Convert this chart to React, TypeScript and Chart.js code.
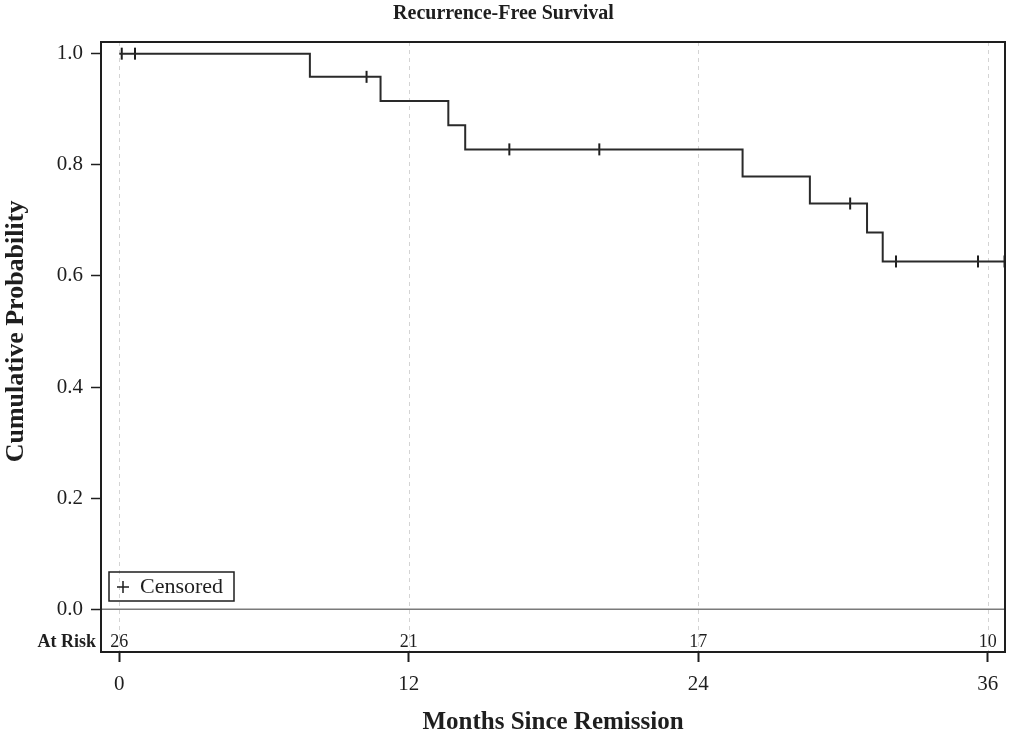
import React, { useEffect, useRef } from "react";
import { Chart, registerables } from "chart.js";

Chart.register(...registerables);

// ---- data ----
const eventTimes = [0, 7.9, 10.83, 13.64, 14.34, 25.84, 28.63, 31.0, 31.65, 36.7];
const survival = [1.0, 0.9583, 0.9148, 0.8712, 0.8277, 0.779, 0.7303, 0.6781, 0.626, 0.626];
const censorTimes = [0.1, 0.65, 10.25, 16.17, 19.9, 30.3, 32.2, 35.6, 36.7];
const censorSurvival = [1.0, 1.0, 0.9583, 0.8277, 0.8277, 0.7303, 0.626, 0.626, 0.626];
const xTicks = [0, 12, 24, 36];
const yTicks = [0, 0.2, 0.4, 0.6, 0.8, 1.0];
const atRiskTimes = [0, 12, 24, 36];
const atRiskCounts = [26, 21, 17, 10];

const TITLE = "Recurrence-Free Survival";
const X_TITLE = "Months Since Remission";
const Y_TITLE = "Cumulative Probability";
const AT_RISK_LABEL = "At Risk";
const LEGEND_LABEL = "Censored";

const SERIF = '"Liberation Serif", "Times New Roman", Times, serif';
const INK = "#1e1e1e";

const overlayPlugin = {
  id: "kmOverlay",
  beforeDatasetsDraw(chart: any) {
    const { ctx, chartArea } = chart;
    const xs = chart.scales.x;
    const ys = chart.scales.y;
    ctx.save();
    // dashed vertical grid lines
    ctx.strokeStyle = "#d4d4d4";
    ctx.lineWidth = 1;
    ctx.setLineDash([4, 4]);
    xTicks.forEach((v) => {
      const px = Math.round(xs.getPixelForValue(v)) + 0.5;
      ctx.beginPath();
      ctx.moveTo(px, chartArea.top);
      ctx.lineTo(px, chartArea.bottom);
      ctx.stroke();
    });
    ctx.setLineDash([]);
    // zero reference line
    const y0 = ys.getPixelForValue(0);
    ctx.strokeStyle = "#7a7a7a";
    ctx.lineWidth = 1.5;
    ctx.beginPath();
    ctx.moveTo(chartArea.left, y0);
    ctx.lineTo(chartArea.right, y0);
    ctx.stroke();
    // y axis title, centred on the 0..1 range
    const yMid = (ys.getPixelForValue(0) + ys.getPixelForValue(1)) / 2;
    ctx.save();
    ctx.translate(16, yMid);
    ctx.rotate(-Math.PI / 2);
    ctx.fillStyle = INK;
    ctx.font = `bold 26px ${SERIF}`;
    ctx.textAlign = "center";
    ctx.textBaseline = "middle";
    ctx.fillText(Y_TITLE, 0, 0);
    ctx.restore();
    // at risk row
    const yr = ys.getPixelForValue(-0.06);
    ctx.fillStyle = INK;
    ctx.textBaseline = "middle";
    ctx.font = `bold 18px ${SERIF}`;
    ctx.textAlign = "right";
    ctx.fillText(AT_RISK_LABEL, chartArea.left - 5, yr);
    ctx.font = `18px ${SERIF}`;
    ctx.textAlign = "center";
    atRiskTimes.forEach((t, i) => {
      ctx.fillText(String(atRiskCounts[i]), xs.getPixelForValue(t), yr);
    });
    // legend box
    const lx = chartArea.left + 8;
    const ly = chartArea.bottom - 80;
    ctx.strokeStyle = INK;
    ctx.lineWidth = 1.5;
    ctx.strokeRect(lx, ly, 125, 29);
    ctx.beginPath();
    ctx.moveTo(lx + 8, ly + 15);
    ctx.lineTo(lx + 20, ly + 15);
    ctx.moveTo(lx + 14, ly + 9);
    ctx.lineTo(lx + 14, ly + 21);
    ctx.stroke();
    ctx.font = `22px ${SERIF}`;
    ctx.textAlign = "left";
    ctx.fillText(LEGEND_LABEL, lx + 31, ly + 15);
    ctx.restore();
  },
  afterDatasetsDraw(chart: any) {
    const { ctx, chartArea } = chart;
    ctx.save();
    ctx.strokeStyle = INK;
    ctx.lineWidth = 2;
    ctx.strokeRect(
      chartArea.left,
      chartArea.top,
      chartArea.right - chartArea.left,
      chartArea.bottom - chartArea.top
    );
    ctx.restore();
  },
};

export default function App() {
  const ref = useRef<HTMLCanvasElement | null>(null);

  useEffect(() => {
    document.body.style.margin = "0";
    const canvas = ref.current;
    if (!canvas) return;
    const chart = new Chart(canvas, {
      type: "line",
      data: {
        datasets: [
          {
            label: "Survival",
            data: eventTimes.map((t, i) => ({ x: t, y: survival[i] })),
            stepped: "before",
            borderColor: "#2a2a2a",
            borderWidth: 2,
            pointRadius: 0,
            fill: false,
            clip: false,
          } as any,
          {
            label: "Censored",
            type: "scatter",
            data: censorTimes.map((t, i) => ({ x: t, y: censorSurvival[i] })),
            pointStyle: "line",
            rotation: 90,
            pointRadius: 6,
            pointBorderWidth: 2,
            borderColor: INK,
            backgroundColor: INK,
            showLine: false,
            clip: false,
          } as any,
        ],
      },
      options: {
        animation: false,
        responsive: false,
        devicePixelRatio: 1,
        layout: { padding: { left: 0, right: 6, top: 0, bottom: 0 } },
        plugins: {
          legend: { display: false },
          tooltip: { enabled: false },
          title: {
            display: true,
            text: TITLE,
            color: INK,
            font: { family: SERIF, size: 20, weight: "bold" },
            padding: { top: 2, bottom: 16 },
          },
        },
        scales: {
          x: {
            type: "linear",
            min: -0.76,
            max: 36.72,
            afterBuildTicks: (s: any) => {
              s.ticks = xTicks.map((v) => ({ value: v }));
            },
            afterFit: (s: any) => {
              s.height = 87;
            },
            ticks: {
              color: INK,
              font: { family: SERIF, size: 21 },
              padding: 10,
              maxRotation: 0,
              autoSkip: false,
              callback: (v: any) => String(v),
            },
            grid: {
              drawOnChartArea: false,
              drawTicks: true,
              tickLength: 10,
              tickColor: INK,
              tickWidth: 2,
            },
            border: { display: false },
            title: {
              display: true,
              text: X_TITLE,
              color: INK,
              font: { family: SERIF, size: 25, weight: "bold" },
              padding: { top: 0, bottom: 1 },
            },
          },
          y: {
            type: "linear",
            min: -0.0769,
            max: 1.021,
            afterBuildTicks: (s: any) => {
              s.ticks = yTicks.map((v) => ({ value: v }));
            },
            afterFit: (s: any) => {
              s.width = 101;
            },
            ticks: {
              color: INK,
              font: { family: SERIF, size: 21 },
              padding: 8,
              callback: (v: any) => Number(v).toFixed(1),
            },
            grid: {
              drawOnChartArea: false,
              drawTicks: true,
              tickLength: 10,
              tickColor: INK,
              tickWidth: 1.5,
            },
            border: { display: false },
            title: { display: false },
          },
        },
      },
      plugins: [overlayPlugin],
    } as any);
    return () => chart.destroy();
  }, []);

  return (
    <div style={{ width: 1013, height: 739, background: "#fff" }}>
      <canvas ref={ref} width={1013} height={739} style={{ display: "block" }} />
    </div>
  );
}
